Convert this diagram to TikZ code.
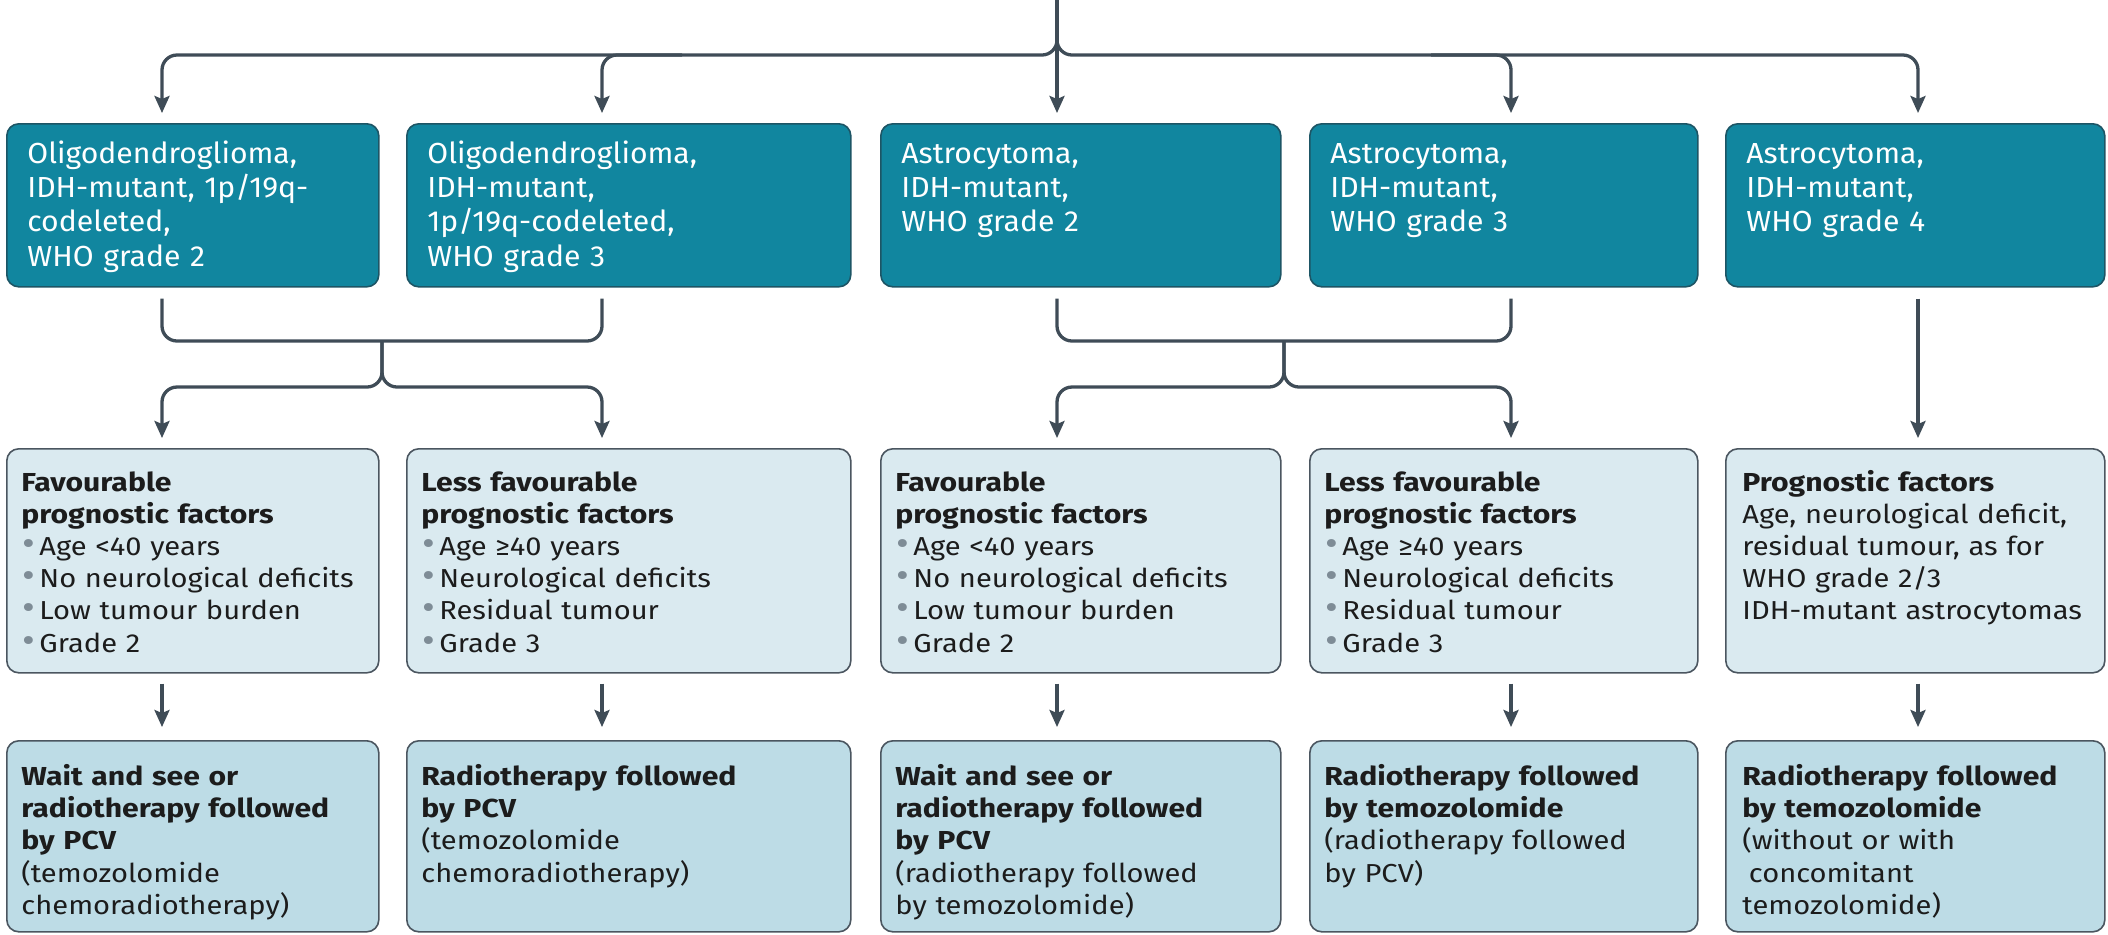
\documentclass[tikz,border=0pt]{standalone}
\usepackage{fontspec}
\setmainfont{Fira Sans}
\newfontfamily\ronefont{Fira Sans}[FakeStretch=1.04]
\newfontfamily\rtwofont{Fira Sans}[FakeStretch=1.12]
\newfontfamily\rtwobold{Fira Sans}[FakeStretch=1.16]
\usetikzlibrary{arrows.meta,calc}
\definecolor{tealbox}{HTML}{11869F}
\definecolor{tealborder}{HTML}{1D5565}
\definecolor{lightbox}{HTML}{DAEAF0}
\definecolor{midbox}{HTML}{BDDCE6}
\definecolor{greyborder}{HTML}{4B5660}
\definecolor{conncol}{HTML}{3F4C57}
\definecolor{darktext}{HTML}{1C1C1C}
\definecolor{bulcol}{HTML}{7E8C96}
\newcommand\itm{\makebox[9pt][l]{\hspace{0.6pt}\textcolor{bulcol}{\scalebox{1.35}{•}}}}
\newcommand\hd[1]{{\rtwobold\bfseries #1}}
\newcommand\BOX[6]{\node[#2, minimum width={(#5-#3)*0.5pt}, minimum height={(#6-#4)*0.5pt}] (#1) at (#3,#4) {};}
\tikzset{
  boxbase/.style={rectangle, rounded corners=6pt, line width=0.8pt, inner sep=0pt, anchor=north west},
  rowone/.style={boxbase, draw=tealborder, fill=tealbox},
  rowtwo/.style={boxbase, draw=greyborder, fill=lightbox},
  rowthree/.style={boxbase, draw=greyborder, fill=midbox},
  txtone/.style={anchor=base west, inner sep=0pt, text width=200pt, align=left, text=white, font=\ronefont\fontsize{14.5}{17.2}\selectfont},
  txttwo/.style={anchor=base west, inner sep=0pt, text width=200pt, align=left, text=darktext, font=\rtwofont\fontsize{13}{16.1}\selectfont},
  txtthree/.style={txttwo, font=\rtwofont\fontsize{13}{16.2}\selectfont},
  conn/.style={draw=conncol, line width=1.65pt, rounded corners=7.5pt},
  arr/.style={-{Stealth[length=8.5pt, width=7.5pt, inset=1.5pt]}},
}
\begin{document}
\begin{tikzpicture}[x=0.5pt, y=-0.5pt]
\useasboundingbox (0,0) rectangle (2108,934);
% row 1
\BOX{o1}{rowone}{6}{123}{378}{286}
\BOX{o2}{rowone}{406}{123}{850}{286}
\BOX{o3}{rowone}{880}{123}{1280}{286}
\BOX{o4}{rowone}{1309}{123}{1697}{286}
\BOX{o5}{rowone}{1725}{123}{2104}{286}
% row 2
\BOX{f1}{rowtwo}{6}{448}{378}{672}
\BOX{f2}{rowtwo}{406}{448}{850}{672}
\BOX{f3}{rowtwo}{880}{448}{1280}{672}
\BOX{f4}{rowtwo}{1309}{448}{1697}{672}
\BOX{f5}{rowtwo}{1725}{448}{2104}{672}
% row 3
\BOX{t1}{rowthree}{6}{740}{378}{931}
\BOX{t2}{rowthree}{406}{740}{850}{931}
\BOX{t3}{rowthree}{880}{740}{1280}{931}
\BOX{t4}{rowthree}{1309}{740}{1697}{931}
\BOX{t5}{rowthree}{1725}{740}{2104}{931}
% texts row 1
\node[txtone] (o1x) at ($(o1.north west)+(21,40)$) {Oligodendroglioma,\\IDH-mutant, 1p/19q-\\codeleted,\\WHO grade 2};
\node[txtone] (o2x) at ($(o2.north west)+(21,40)$) {Oligodendroglioma,\\IDH-mutant,\\1p/19q-codeleted,\\WHO grade 3};
\node[txtone] (o3x) at ($(o3.north west)+(21,40)$) {Astrocytoma,\\IDH-mutant,\\WHO grade 2};
\node[txtone] (o4x) at ($(o4.north west)+(21,40)$) {Astrocytoma,\\IDH-mutant,\\WHO grade 3};
\node[txtone] (o5x) at ($(o5.north west)+(21,40)$) {Astrocytoma,\\IDH-mutant,\\WHO grade 4};
% texts row 2
\node[txttwo] (f1x) at ($(f1.north west)+(15,43)$) {\hd{Favourable\\prognostic factors}\\\itm Age <40 years\\\itm No neurological deficits\\\itm Low tumour burden\\\itm Grade 2};
\node[txttwo] (f2x) at ($(f2.north west)+(15,43)$) {\hd{Less favourable\\prognostic factors}\\\itm Age ≥40 years\\\itm Neurological deficits\\\itm Residual tumour\\\itm Grade 3};
\node[txttwo] (f3x) at ($(f3.north west)+(15,43)$) {\hd{Favourable\\prognostic factors}\\\itm Age <40 years\\\itm No neurological deficits\\\itm Low tumour burden\\\itm Grade 2};
\node[txttwo] (f4x) at ($(f4.north west)+(15,43)$) {\hd{Less favourable\\prognostic factors}\\\itm Age ≥40 years\\\itm Neurological deficits\\\itm Residual tumour\\\itm Grade 3};
\node[txttwo] (f5x) at ($(f5.north west)+(17,43)$) {\hd{Prognostic factors}\\Age, neurological deficit,\\residual tumour, as for\\WHO grade 2/3\\IDH-mutant astrocytomas};
% texts row 3
\node[txtthree] (t1x) at ($(t1.north west)+(15,45)$) {\hd{Wait and see or\\radiotherapy followed\\by PCV}\\(temozolomide\\chemoradiotherapy)};
\node[txtthree] (t2x) at ($(t2.north west)+(15,45)$) {\hd{Radiotherapy followed\\by PCV}\\(temozolomide\\chemoradiotherapy)};
\node[txtthree] (t3x) at ($(t3.north west)+(15,45)$) {\hd{Wait and see or\\radiotherapy followed\\by PCV}\\(radiotherapy followed\\by temozolomide)};
\node[txtthree] (t4x) at ($(t4.north west)+(15,45)$) {\hd{Radiotherapy followed\\by temozolomide}\\(radiotherapy followed\\by PCV)};
\node[txtthree] (t5x) at ($(t5.north west)+(17,45)$) {\hd{Radiotherapy followed\\by temozolomide}\\(without or with\\\hspace*{0.25em}concomitant\\temozolomide)};
% connector coordinates
\coordinate (top) at (1057,0);
\coordinate (k1) at (162,0);
\coordinate (k2) at (602,0);
\coordinate (k3) at (1057,0);
\coordinate (k4) at (1511,0);
\coordinate (k5) at (1918,0);
\coordinate (m1) at (382,0);
\coordinate (m2) at (1284,0);
\coordinate (h0) at (0,55);
\coordinate (h1) at (0,341);
\coordinate (h2) at (0,387);
% top distribution
\draw[conn,arr] (top) -- ($(k3|-o3.north)+(0,-10)$);
\draw[conn,arr] (top) -- (top|-h0) -- (k1|-h0) -- ($(k1|-o1.north)+(0,-10)$);
\draw[conn,arr] (top) -- (top|-h0) -- (k5|-h0) -- ($(k5|-o5.north)+(0,-10)$);
\draw[conn,arr] ($(k2|-h0)+(80,0)$) -- (k2|-h0) -- ($(k2|-o2.north)+(0,-10)$);
\draw[conn,arr] ($(k4|-h0)+(-80,0)$) -- (k4|-h0) -- ($(k4|-o4.north)+(0,-10)$);
% oligodendroglioma bracket
\draw[conn] ($(k1|-o1.south)+(0,11)$) -- (k1|-h1) -- (k2|-h1) -- ($(k2|-o2.south)+(0,11)$);
\draw[conn,arr] (m1|-h1) -- (m1|-h2) -- (k1|-h2) -- ($(k1|-f1.north)+(0,-10)$);
\draw[conn,arr] (m1|-h1) -- (m1|-h2) -- (k2|-h2) -- ($(k2|-f2.north)+(0,-10)$);
% astrocytoma bracket
\draw[conn] ($(k3|-o3.south)+(0,11)$) -- (k3|-h1) -- (k4|-h1) -- ($(k4|-o4.south)+(0,11)$);
\draw[conn,arr] (m2|-h1) -- (m2|-h2) -- (k3|-h2) -- ($(k3|-f3.north)+(0,-10)$);
\draw[conn,arr] (m2|-h1) -- (m2|-h2) -- (k4|-h2) -- ($(k4|-f4.north)+(0,-10)$);
% grade 4
\draw[conn,arr] ($(k5|-o5.south)+(0,11)$) -- ($(k5|-f5.north)+(0,-10)$);
% row 2 to row 3
\draw[conn,arr] ($(k1|-f1.south)+(0,10)$) -- ($(k1|-t1.north)+(0,-13)$);
\draw[conn,arr] ($(k2|-f2.south)+(0,10)$) -- ($(k2|-t2.north)+(0,-13)$);
\draw[conn,arr] ($(k3|-f3.south)+(0,10)$) -- ($(k3|-t3.north)+(0,-13)$);
\draw[conn,arr] ($(k4|-f4.south)+(0,10)$) -- ($(k4|-t4.north)+(0,-13)$);
\draw[conn,arr] ($(k5|-f5.south)+(0,10)$) -- ($(k5|-t5.north)+(0,-13)$);
\end{tikzpicture}
\end{document}
